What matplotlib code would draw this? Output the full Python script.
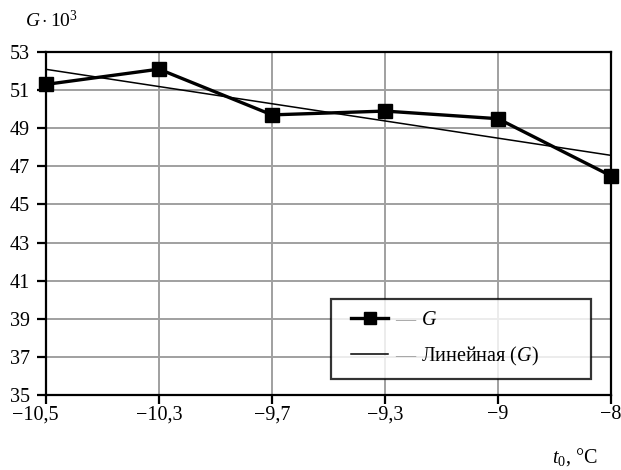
import numpy as np
import matplotlib
matplotlib.use("Agg")
import matplotlib.pyplot as plt
from matplotlib.lines import Line2D
from matplotlib.legend_handler import HandlerLine2D
from matplotlib.transforms import ScaledTranslation

plt.rcParams['font.family'] = ['Liberation Serif', 'DejaVu Serif']
plt.rcParams['mathtext.fontset'] = 'custom'
plt.rcParams['mathtext.rm'] = 'Liberation Serif'
plt.rcParams['mathtext.it'] = 'Liberation Serif:italic'

t_labels = ['\u221210,5', '\u221210,3', '\u22129,7', '\u22129,3', '\u22129', '\u22128']
G = [51.3, 52.1, 49.7, 49.9, 49.5, 46.5]
y_ticks = [35, 37, 39, 41, 43, 45, 47, 49, 51, 53]

x = np.arange(len(G))
k, b = np.polyfit(x, G, 1)
trend = k * x + b

fig = plt.figure(figsize=(6.21, 4.70), dpi=100)
ax = fig.add_axes([46/621, 1 - 395/470, (611-46)/621, (395-52)/470])

ax.plot(x, trend, color='black', lw=1.1, zorder=3, clip_on=False)
ax.plot(x, G, color='black', lw=2.4, marker='s', markersize=9.5, zorder=4, clip_on=False)

ax.set_xlim(0, len(G) - 1)
ax.set_ylim(35, 53)
ax.set_xticks(x)
ax.set_xticklabels(t_labels)
ax.set_yticks(y_ticks)
ax.grid(True, color='#a0a0a0', lw=1.4)
ax.set_axisbelow(True)
for s in ax.spines.values():
    s.set_color('black')
    s.set_linewidth(1.6)
ax.tick_params(axis='both', direction='out', length=6.5, width=1.6, labelsize=14.5)
ax.tick_params(axis='y', pad=5)
ax.tick_params(axis='x', pad=1)

# first x label sits a bit to the left of its tick
first = ax.get_xticklabels()[0]
first.set_transform(first.get_transform() + ScaledTranslation(-11/100, 0, fig.dpi_scale_trans))

fig.text(25/621, 1 - 20/470, r'$G\cdot$10$^3$', fontsize=14, va='center', ha='left')
fig.text(552/621, 1 - 457/470, r'$t_0$, °C', fontsize=14.5, va='center', ha='left')

h1 = Line2D([], [], color='black', lw=2.4, marker='s', markersize=8)
h2 = Line2D([], [], color='black', lw=1.1)
leg = ax.legend([h1, h2], ['$G$', 'Линейная ($G$)'],
                loc='lower left', bbox_to_anchor=(0.504, 0.047, 0.46, 0.224),
                mode='expand', fontsize=14.5, frameon=True, fancybox=False,
                handlelength=2.3, borderpad=0.55, labelspacing=0.75, handletextpad=1.65,
                borderaxespad=0,
                handler_map={h1: HandlerLine2D(xpad=0.45), h2: HandlerLine2D(xpad=0.45)})
leg.get_frame().set_edgecolor('black')
leg.get_frame().set_linewidth(1.6)

# gray dash between each legend key and its text
fig.canvas.draw()
r = fig.canvas.get_renderer()
for t in leg.get_texts():
    bb = t.get_window_extent(r)
    fig.text((bb.x0 - 6) / fig.bbox.width, ((bb.y0 + bb.y1) / 2) / fig.bbox.height,
             '\u2014', color='#999999', fontsize=14.5, ha='right', va='center')

fig.savefig('out.png', dpi=100)
